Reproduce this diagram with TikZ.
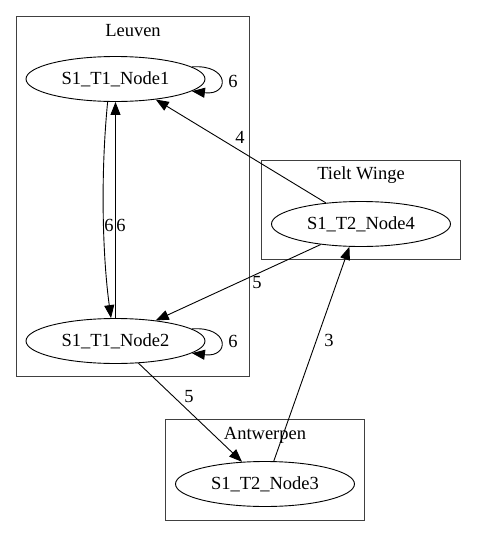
\documentclass[tikz,border=0pt]{standalone}
\usepackage{fontspec}
\setmainfont{Liberation Serif}
\usetikzlibrary{shapes.geometric,arrows.meta}
\begin{document}
\begin{tikzpicture}[x=1pt,y=-1pt,
  every node/.style={font=\rmfamily\fontsize{18.5}{22}\selectfont},
  gnode/.style={draw,ellipse,minimum width=179pt,minimum height=45pt,inner sep=0pt,line width=0.9pt},
  clus/.style={draw,line width=1pt,draw=black!75},
  arr/.style={-{Triangle[length=13pt,width=10pt]},line width=0.9pt},
  lbl/.style={inner sep=1pt}]
\useasboundingbox (0,0) rectangle (477,536);
% clusters
\draw[clus] (16,16) rectangle (249,376);
\node (cl1) at (133,31) {Leuven};
\draw[clus] (261,160) rectangle (460,259);
\node (cl2) at (361,175) {Tielt Winge};
\draw[clus] (165,419) rectangle (364,520);
\node (cl3) at (265,435) {Antwerpen};
% nodes
\node[gnode] (n1) at (115.5,79) {S1\_T1\_Node1};
\node[gnode] (n2) at (115.5,341) {S1\_T1\_Node2};
\node[gnode] (n4) at (361,224) {S1\_T2\_Node4};
\node[gnode] (n3) at (265,484) {S1\_T2\_Node3};
% self loops
\draw[arr] (n1.9) .. controls (230,64) and (230,96) .. (n1.-9);
\node[lbl] (l1) at (233,81) {6};
\draw[arr] (n2.9) .. controls (230,326) and (230,358) .. (n2.-9);
\node[lbl] (l2) at (233,341) {6};
% Node1 -> Node2 curved
\draw[arr] (n1.251) .. controls (100,180) and (103,260) .. (n2.101);
% Node2 -> Node1
\draw[arr] (n2.north) -- (n1.south);
\node[lbl] (l3) at (109,225) {6};
\node[lbl] (l4) at (121,225) {6};
% Node4 -> Node1
\draw[arr] (n4.149) -- (n1.-27);
\node[lbl] (l5) at (240,137) {4};
% Node4 -> Node2
\draw[arr] (n4.207) -- (n2.27);
\node[lbl] (l6) at (257,283) {5};
% Node2 -> Node3
\draw[arr] (n2.-44) -- (n3.136);
\node[lbl] (l7) at (189,397) {5};
% Node3 -> Node4
\draw[arr] (n3.69) -- (n4.-117);
\node[lbl] (l8) at (329,340) {3};
\end{tikzpicture}
\end{document}
